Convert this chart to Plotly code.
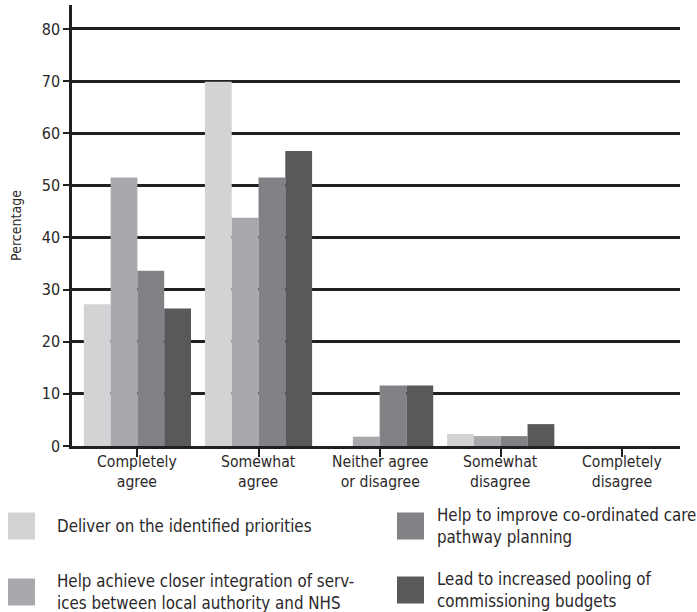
import plotly.graph_objects as go

categories = ["Completely<br>agree", "Somewhat<br>agree", "Neither agree<br>or disagree",
              "Somewhat<br>disagree", "Completely<br>disagree"]
series_names = ["Deliver on the identified priorities",
                "Help achieve closer integration of serv-<br>ices between local authority and NHS",
                "Help to improve co-ordinated care<br>pathway planning",
                "Lead to increased pooling of<br>commissioning budgets"]
deliver = [27.2, 69.9, 0, 2.3, 0]
integration = [51.5, 43.8, 1.8, 1.9, 0]
pathway = [33.6, 51.5, 11.6, 1.9, 0]
pooling = [26.4, 56.6, 11.6, 4.2, 0]
colors = ["#d1d3d4", "#a7a9ac", "#808285", "#58595b"]
y_ticks = [0, 10, 20, 30, 40, 50, 60, 70, 80]

FONT = "DejaVu Sans Condensed, sans-serif"
TXT = "#2b2829"
LINE = "#231f20"
W, H = 697, 612
ML, MR, MT, MB = 72, 17, 5, 166
PW, PH = W - ML - MR, H - MT - MB

def px(x):
    return (x - ML) / PW

def py(y):
    return (H - MB - y) / PH

fig = go.Figure()
xs = list(range(len(categories)))
for name, vals, col in zip(series_names, [deliver, integration, pathway, pooling], colors):
    fig.add_trace(go.Bar(x=xs, y=vals, name=name, marker=dict(color=col, line=dict(width=0)),
                         showlegend=False))

# category labels
for i, lab in enumerate(categories):
    fig.add_annotation(x=i, y=py(472), xref="x", yref="paper", text=lab, showarrow=False,
                       xanchor="center", yanchor="middle", align="center",
                       font=dict(family=FONT, size=15.6, color=TXT))

# manual legend (two columns)
legend_pos = [(8, 526, 55), (8, 592, 55), (397, 526, 435), (397, 590, 435)]
for (sx, sy, tx), name, col in zip(legend_pos, series_names, colors):
    fig.add_shape(type="rect", xref="paper", yref="paper",
                  x0=px(sx), x1=px(sx + 27), y0=py(sy - 13.5), y1=py(sy + 13.5),
                  fillcolor=col, line=dict(width=0))
    fig.add_annotation(x=px(tx), y=py(sy), xref="paper", yref="paper", text=name,
                       showarrow=False, xanchor="left", yanchor="middle", align="left",
                       font=dict(family=FONT, size=16.8, color=TXT))

fig.update_layout(
    width=W, height=H, margin=dict(l=ML, r=MR, t=MT, b=MB),
    paper_bgcolor="white", plot_bgcolor="white",
    barmode="group", bargap=0.115, bargroupgap=0,
    font=dict(family=FONT, color=TXT),
    xaxis=dict(tickmode="array", tickvals=xs, range=[-0.54, 4.48], showticklabels=False,
               tickson="boundaries", ticks="outside", ticklen=8, tickwidth=2, tickcolor=LINE,
               showline=True, linecolor=LINE, linewidth=2.5, showgrid=False, zeroline=False),
    yaxis=dict(range=[0, 84.6], tickvals=y_ticks, ticks="outside", ticklen=6, tickwidth=2,
               tickcolor=LINE, showline=True, linecolor=LINE, linewidth=2.5,
               showgrid=True, gridcolor=LINE, gridwidth=2.5, zeroline=False,
               tickfont=dict(family=FONT, size=16, color=TXT),
               title=dict(text="Percentage", standoff=17, font=dict(family=FONT, size=14, color=TXT))),
)
fig.write_html("out.html", config={"displayModeBar": False},
               post_script="document.body.style.margin='0';")
